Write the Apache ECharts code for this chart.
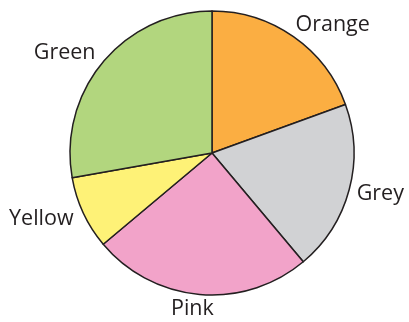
<!DOCTYPE html>
<html><head><meta charset="utf-8">
<script src="https://cdn.jsdelivr.net/npm/echarts@6/dist/echarts.min.js"></script>
<style>html,body{margin:0;padding:0;background:#fff}#c{width:409px;height:322px}</style>
</head><body><div id="c"></div>
<script>
const categories = ['Orange', 'Grey', 'Pink', 'Yellow', 'Green'];
const values = [7, 7, 9, 3, 10];
const colors = ['#FBAE42', '#D1D2D4', '#F2A3C9', '#FEF277', '#B2D67E'];

const chart = echarts.init(document.getElementById('c'), null, {renderer: 'canvas'});
chart.setOption({
  animation: false,
  series: [{
    type: 'pie',
    center: [212, 153],
    radius: [0, 142],
    startAngle: 90,
    clockwise: true,
    avoidLabelOverlap: false,
    itemStyle: {borderColor: '#231F20', borderWidth: 1.5},
    label: {
      show: true, position: 'outside', color: '#231F20',
      fontFamily: 'Open Sans', fontSize: 21.5, formatter: '{b}'
    },
    labelLine: {show: false, length: 14, length2: -8},
    labelLayout: function (p) {
      if (p.dataIndex === 2) return {align: 'center', dx: -9};
      if (p.dataIndex === 1) return {dx: -3};
      if (p.dataIndex === 0) return {dx: -3};
      return {};
    },
    emphasis: {disabled: true},
    data: categories.map((c, i) => ({name: c, value: values[i], itemStyle: {color: colors[i]}}))
  }]
});
</script></body></html>
